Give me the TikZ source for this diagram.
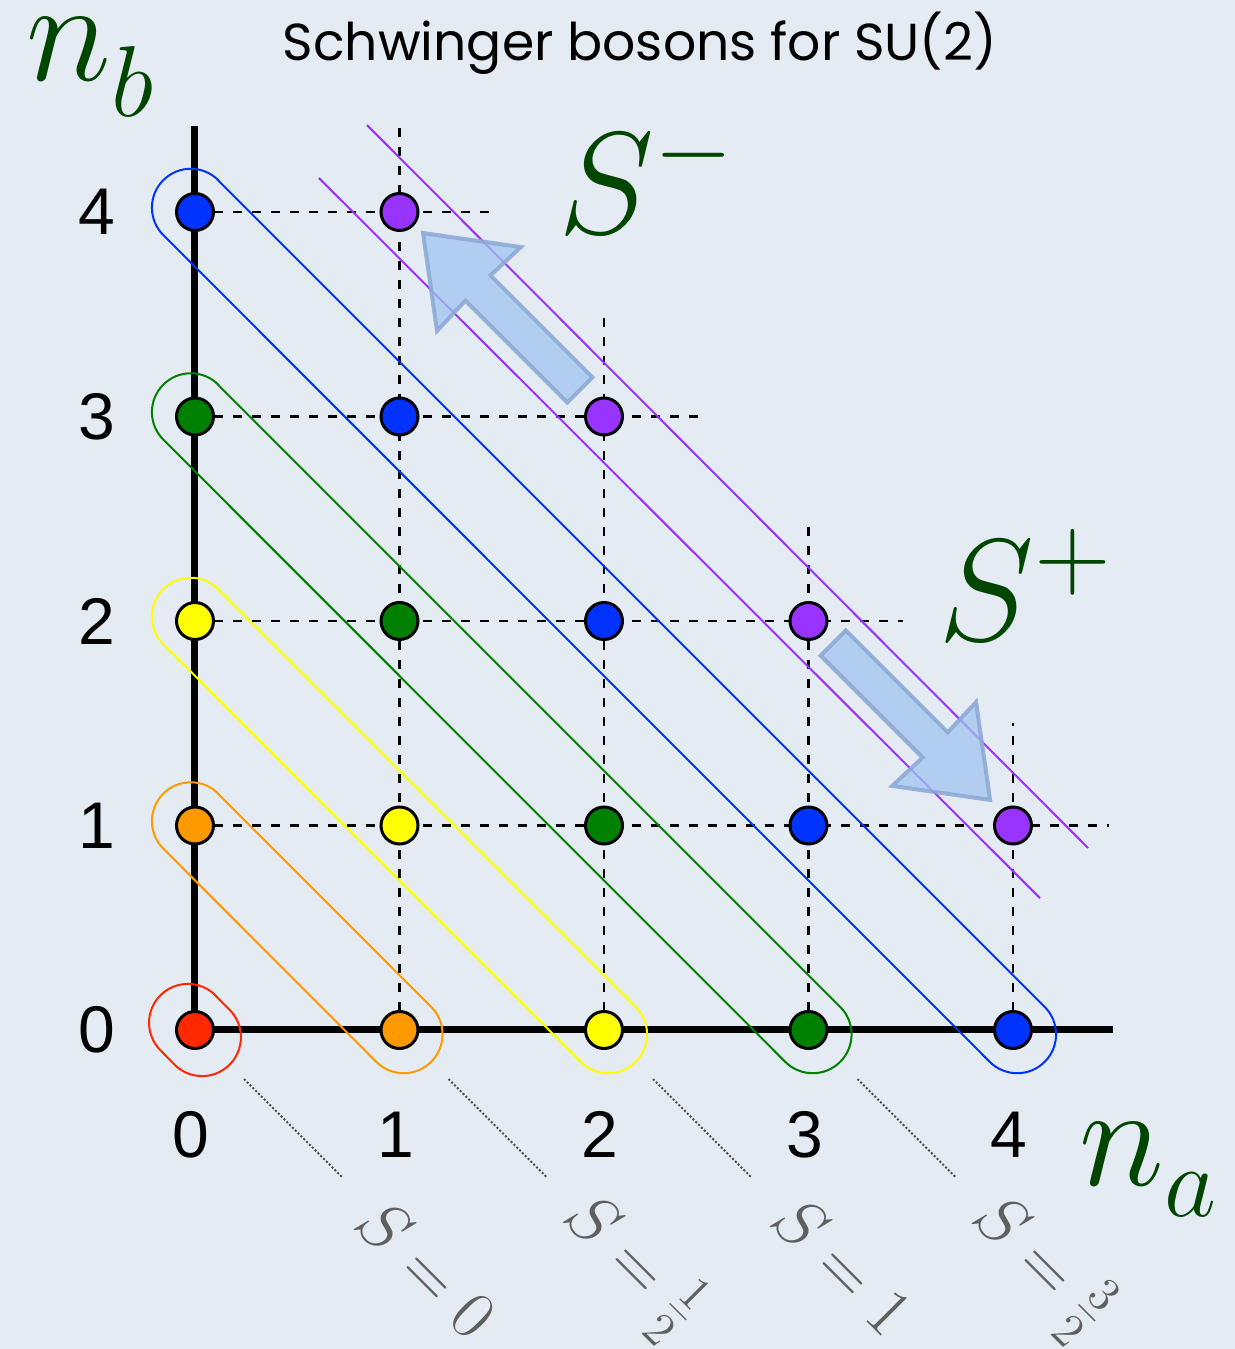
\documentclass[tikz,border=0pt]{standalone}
\usepackage[no-math]{fontspec}
\setmainfont{Liberation Sans}
\newfontfamily\titlefont{Poppins}
\usetikzlibrary{calc}
\definecolor{col0}{RGB}{255,40,0}
\definecolor{col1}{RGB}{255,153,0}
\definecolor{col2}{RGB}{255,255,0}
\definecolor{col3}{RGB}{0,128,0}
\definecolor{col4}{RGB}{0,51,255}
\definecolor{col5}{RGB}{153,51,255}
\definecolor{dgreen}{RGB}{0,70,0}
\definecolor{bgC}{RGB}{229,235,242}
\definecolor{arrowFill}{RGB}{160,195,240}
\definecolor{arrowEdge}{RGB}{138,168,212}
\definecolor{labGrey}{RGB}{95,95,95}
\begin{document}
\begin{tikzpicture}[x=102.25pt,y=102.25pt,
  dot/.style={circle,draw=black,line width=1.5pt,inner sep=0pt,minimum size=18.5pt},
  axisline/.style={line width=3.5pt,black},
  gridline/.style={black,line width=1.3pt,dash pattern=on 4.5pt off 5pt},
  capline/.style={line width=1pt},
  leader/.style={black!70,line width=1pt,dash pattern=on 1pt off 1pt},
  bigarrow/.style={fill=arrowFill,fill opacity=0.75,draw=arrowEdge,draw opacity=0.85,line width=2pt,line join=miter},
  numlab/.style={font=\fontsize{33}{33}\selectfont,inner sep=0pt},
  mathlab/.style={text=dgreen,font=\fontsize{20}{24}\selectfont,scale=3.5,inner sep=0pt,anchor=base west},
  slab/.style={text=labGrey,font=\fontsize{20}{24}\selectfont,scale=1.65,rotate=-45,inner sep=0pt}
]
\fill[bgC] (-0.9535,-1.5599) rectangle (5.0856,5.0367);
\useasboundingbox (-0.9535,-1.5599) rectangle (5.0856,5.0367);

% dashed grid
\draw[gridline] (1,0) -- (1,4.42);
\draw[gridline] (2,0) -- (2,3.5);
\draw[gridline] (3,0) -- (3,2.5);
\draw[gridline] (4,0) -- (4,1.5);
\draw[gridline] (0,4) -- (1.48,4);
\draw[gridline] (0,3) -- (2.46,3);
\draw[gridline] (0,2) -- (3.46,2);
\draw[gridline] (0,1) -- (4.47,1);

% axes
\draw[axisline] (0,4.42) -- (0,0) -- (4.49,0);

% capsules
\draw[capline,col0] (0.099,0.169) -- (0.169,0.099) arc[start angle=45,end angle=-135,radius=0.19]
   -- (-0.169,-0.099) arc[start angle=225,end angle=45,radius=0.19] -- cycle;
\foreach \s in {1,...,4}{
  \draw[capline,col\s] (0.113,\s+0.155) -- (\s+0.155,0.113) arc[start angle=45,end angle=-135,radius=0.19]
     -- (-0.155,\s-0.113) arc[start angle=225,end angle=45,radius=0.19] -- cycle;
}

% purple lines
\draw[capline,col5] (0.841,4.425) -- (4.367,0.890);
\draw[capline,col5] (0.606,4.166) -- (4.132,0.645);

% leaders
\foreach \s in {0,...,3}{
  \draw[leader] (\s+0.24,-0.24) -- (\s+0.72,-0.72);
}

% dots
\foreach \i in {0,...,4}{
  \foreach \j in {0,...,4}{
    \pgfmathtruncatemacro\ss{\i+\j}
    \ifnum\ss<6
      \node[dot,fill=col\ss] (d-\i-\j) at (\i,\j) {};
    \fi
  }
}

% big arrows
\begin{scope}[shift={(1.115,3.897)},rotate=135]
  \draw[bigarrow] (0,0) -- (-0.387,0.29) -- (-0.38,0.087) -- (-1.085,0.087)
     -- (-1.085,-0.087) -- (-0.38,-0.087) -- (-0.387,-0.29) -- cycle;
\end{scope}
\begin{scope}[shift={(3.888,1.125)},rotate=-45]
  \draw[bigarrow] (0,0) -- (-0.387,0.29) -- (-0.38,0.087) -- (-1.085,0.087)
     -- (-1.085,-0.087) -- (-0.38,-0.087) -- (-0.387,-0.29) -- cycle;
\end{scope}

% labels
\node[font=\titlefont\fontsize{26}{26}\selectfont,anchor=base,inner sep=0pt] (title) at (2.176,4.743) {Schwinger bosons for SU(2)};
\node[mathlab] (nb) at (-0.83,4.645) {$n_{\raisebox{-2.1pt}{$\scriptstyle b$}}$};
\node[mathlab] (na) at (4.32,-0.758) {$n_{\raisebox{-1.4pt}{$\scriptstyle a$}}$};
\node[mathlab] (sm) at (1.77,3.895) {$S^-$};
\node[mathlab] (sp) at (3.63,1.907) {$S^+$};

\foreach \j in {0,...,4}{ \node[numlab] (ly\j) at (-0.48,\j) {\j}; }
\foreach \i in {0,...,4}{ \node[numlab] (lx\i) at (\i-0.02,-0.513) {\i}; }

\node[slab] (s0) at (1.134,-1.164) {$S=0$};
\node[slab] (s1) at (2.132,-1.149) {$S=\frac{1}{2}$};
\node[slab] (s2) at (3.169,-1.149) {$S=1$};
\node[slab] (s3) at (4.132,-1.154) {$S=\frac{3}{2}$};
\end{tikzpicture}
\end{document}
